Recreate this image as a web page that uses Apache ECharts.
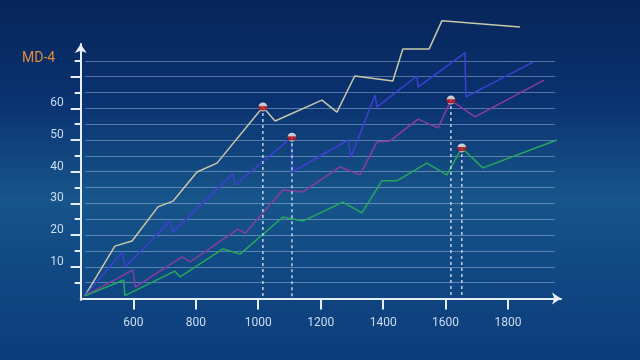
<!DOCTYPE html>
<html><head><meta charset="utf-8">
<script src="https://cdn.jsdelivr.net/npm/echarts@6/dist/echarts.min.js"></script>
<style>
html,body{margin:0;padding:0;width:640px;height:360px;overflow:hidden;
background:linear-gradient(180deg,#07255a 0%,#0a3270 28%,#17558a 55%,#114a84 72%,#0c3c7a 100%);}
#c{width:640px;height:360px;}
</style>
</head><body><div id="c"></div>
<script>
const axisName = 'MD-4';
const xTicks = [600, 800, 1000, 1200, 1400, 1600, 1800];
const yLabels = [10, 20, 30, 40, 50, 60];
const yMajorTicks = [10, 20, 30, 40, 50, 60, 70];
const yMinorTicks = [5, 15, 25, 35, 45, 55, 65, 75];

const greyX = [445, 541, 596, 679, 727, 804, 868, 1015, 1054, 1204, 1252, 1309, 1431, 1463, 1547, 1588, 1838];
const greyY = [0.8, 16.5, 18.1, 28.9, 30.7, 39.9, 42.7, 60.4, 56.0, 62.6, 58.8, 70.2, 68.6, 78.7, 78.7, 87.6, 85.7];
const blueX = [445, 564, 574, 717, 727, 919, 926, 1108, 1109, 1288, 1297, 1374, 1380, 1508, 1512, 1662, 1665, 1880];
const blueY = [0.8, 14.6, 9.9, 24.4, 21.0, 39.3, 35.8, 50.9, 39.9, 50.0, 44.6, 64.2, 60.4, 70.2, 66.7, 77.5, 63.6, 74.6];
const purpleX = [445, 599, 606, 756, 782, 935, 958, 1079, 1143, 1262, 1326, 1380, 1422, 1512, 1576, 1617, 1694, 1915];
const purpleY = [0.8, 9.0, 3.6, 13.1, 11.5, 21.9, 20.6, 34.2, 33.6, 41.5, 39.0, 49.4, 49.7, 56.6, 53.8, 62.6, 57.3, 68.9];
const greenX = [445, 569, 573, 733, 750, 887, 942, 1079, 1143, 1271, 1332, 1396, 1444, 1540, 1604, 1652, 1719, 1956];
const greenY = [0.8, 5.8, 0.9, 8.6, 6.8, 15.6, 14.0, 25.7, 24.4, 30.4, 27.0, 37.1, 37.1, 42.7, 39.0, 47.5, 41.2, 50.0];
// index of the highlighted point in each series
const markIndex = [7, 7, 15, 15];

const X_MIN = 431.6, X_MAX = 1969.5, Y_MIN = -0.5, Y_MAX = 80.3;
const lines = [
  {x: greyX, y: greyY, color: '#c9c7aa'},
  {x: blueX, y: blueY, color: '#3d40d2'},
  {x: purpleX, y: purpleY, color: '#8a3d9e'},
  {x: greenX, y: greenY, color: '#27a85c'}
];
const zip = (xs, ys) => xs.map((v, i) => [v, ys[i]]);
const axisColor = '#e6eef9';
const labelColor = '#cddcf2';
const font = 'Roboto, "DejaVu Sans", sans-serif';

const series = [];
lines.forEach((l, k) => {
  series.push({
    type: 'line', xAxisIndex: 0, yAxisIndex: 0, data: zip(l.x, l.y),
    showSymbol: false, clip: false, silent: true, z: 3,
    lineStyle: {color: l.color, width: 1.5}
  });
});
const markPts = lines.map((l, k) => [l.x[markIndex[k]], l.y[markIndex[k]]]);
markPts.forEach(p => {
  series.push({
    type: 'line', xAxisIndex: 0, yAxisIndex: 0, data: [p, [p[0], Y_MIN]],
    showSymbol: false, clip: false, silent: true, z: 4,
    lineStyle: {color: '#d8e6f6', width: 1.3, type: [3, 3]}
  });
});
series.push({
  type: 'scatter', xAxisIndex: 0, yAxisIndex: 0, data: markPts, clip: false,
  symbolSize: 9, z: 6, silent: true,
  itemStyle: {
    color: {type: 'linear', x: 0, y: 0, x2: 0, y2: 1, colorStops: [
      {offset: 0, color: '#ffffff'}, {offset: 0.38, color: '#f2eeee'},
      {offset: 0.45, color: '#d62a2a'}, {offset: 0.78, color: '#b51818'},
      {offset: 0.9, color: '#e9c2c2'}, {offset: 1, color: '#ffffff'}]},
    shadowColor: 'rgba(0,0,0,0.35)', shadowBlur: 2
  }
});

const chart = echarts.init(document.getElementById('c'), null, {renderer: 'canvas'});
chart.setOption({
  backgroundColor: 'transparent',
  animation: false,
  title: {text: axisName, left: 22, top: 51, padding: 0,
    textStyle: {color: '#e08a3c', fontSize: 14, fontWeight: 'normal', fontFamily: font}},
  grid: [
    {left: 80.7, right: 79, top: 44, bottom: 60},
    {left: 85, right: 85, top: 60.8, bottom: 77.4}
  ],
  xAxis: [
    {type: 'value', gridIndex: 0, min: X_MIN, max: X_MAX, position: 'bottom',
      axisLine: {show: true, lineStyle: {color: axisColor, width: 2}, symbol: ['none', 'arrow'], symbolSize: [9, 9]},
      axisTick: {show: true, customValues: xTicks, length: 11, lineStyle: {color: axisColor, width: 2}},
      axisLabel: {customValues: xTicks, color: labelColor, fontSize: 12, fontFamily: font, margin: 17,
        formatter: v => String(v)},
      splitLine: {show: false}},
    {type: 'value', gridIndex: 1, min: 0, max: 1, show: false, splitLine: {show: false}}
  ],
  yAxis: [
    {type: 'value', gridIndex: 0, min: Y_MIN, max: Y_MAX, position: 'left',
      axisLine: {show: true, lineStyle: {color: axisColor, width: 2}, symbol: ['none', 'arrow'], symbolSize: [9, 9]},
      axisTick: {show: true, customValues: yMajorTicks, length: 10, lineStyle: {color: axisColor, width: 2}},
      axisLabel: {customValues: yLabels, color: labelColor, fontSize: 12, fontFamily: font, margin: 17,
        verticalAlign: 'bottom', lineHeight: 10, formatter: v => String(v)},
      splitLine: {show: false}},
    {type: 'value', gridIndex: 0, min: Y_MIN, max: Y_MAX, position: 'left', offset: 0,
      axisLine: {show: false, onZero: false},
      axisTick: {show: true, customValues: yMinorTicks, length: 6, lineStyle: {color: axisColor, width: 2}},
      axisLabel: {show: false}, splitLine: {show: false}},
    {type: 'value', gridIndex: 1, min: 5, max: 75, interval: 5,
      axisLine: {show: false}, axisTick: {show: false}, axisLabel: {show: false},
      splitLine: {show: true, lineStyle: {color: 'rgba(190,210,240,0.42)', width: 1}}}
  ],
  series: series
});
</script>
</body></html>
